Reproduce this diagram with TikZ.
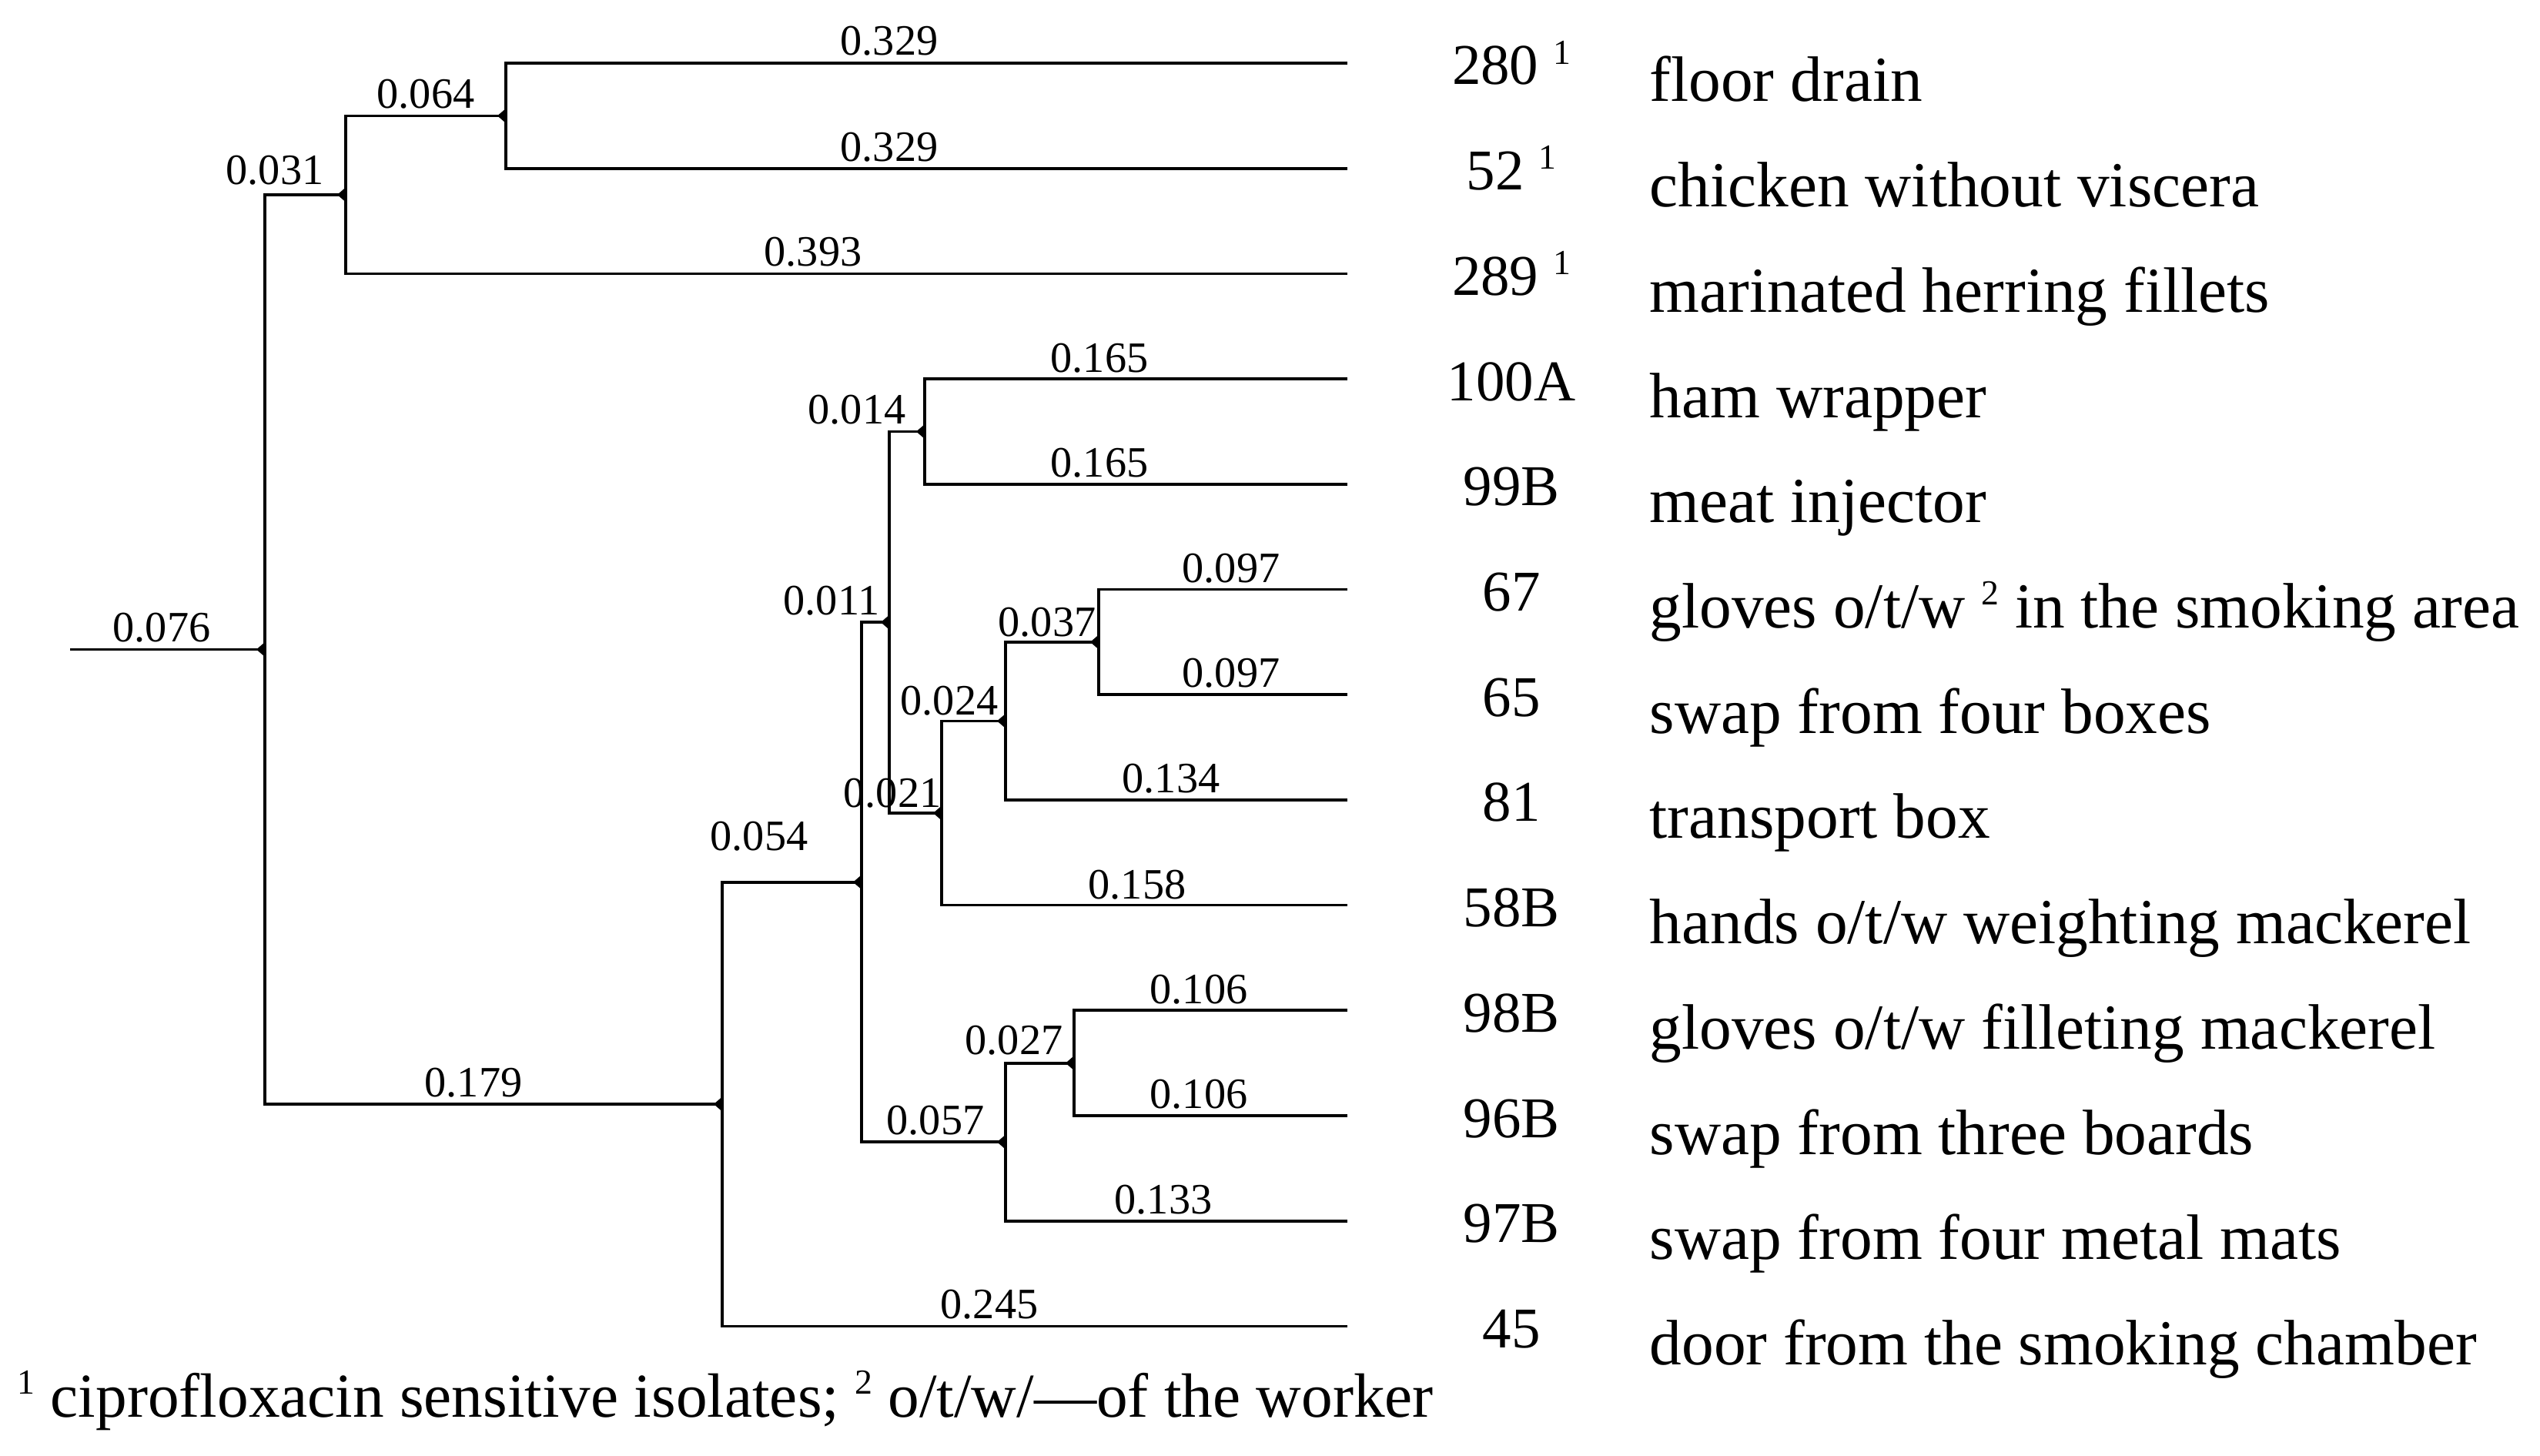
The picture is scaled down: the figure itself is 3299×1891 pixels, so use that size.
\documentclass[tikz,border=0pt]{standalone}
\usepackage{fontspec}
\setmainfont{Liberation Serif}
\newcommand\mysup[1]{\raisebox{0.36em}{\fontsize{13pt}{13pt}\selectfont #1}}
\begin{document}
\begin{tikzpicture}[x=0.01cm,y=-0.01cm,
  br/.style={line width=1.05pt},
  blab/.style={font=\fontsize{16pt}{18pt}\selectfont, anchor=base, inner sep=0pt},
  numlab/.style={font=\fontsize{21.3pt}{24pt}\selectfont, anchor=base, inner sep=0pt},
  namelab/.style={font=\fontsize{23.7pt}{26pt}\selectfont, anchor=base west, inner sep=0pt},
  footlab/.style={font=\fontsize{23.1pt}{26pt}\selectfont, anchor=base west, inner sep=0pt},
  mk/.style={fill=black}]
\useasboundingbox (0,0) rectangle (3299,1891);
% leaves
\foreach \i in {1,...,13} {
  \coordinate (L\i) at (1750,{82+136.7*(\i-1)});
}
% internal nodes
\coordinate (r0) at (91,843.5);
\coordinate (n1) at (344,843.5);
\coordinate (n2) at (449,252.9);
\coordinate (n3) at (657,150.4);
\coordinate (n5) at (938,1434);
\coordinate (n6) at (1119,1145.7);
\coordinate (n7) at (1155,808.2);
\coordinate (n8) at (1201,560.5);
\coordinate (n9) at (1223,1056);
\coordinate (n11) at (1306,936.4);
\coordinate (n12) at (1427,833.9);
\coordinate (n10) at (1306,1483.2);
\coordinate (n13) at (1395,1380.7);
% connectors
\draw[br] (r0) -- (n1);
\draw[br] (n1) |- (n2);
\draw[br] (n1) |- (n5);
\draw[br] (n2) |- (n3);
\draw[br] (n2) |- (L3);
\draw[br] (n3) |- (L1);
\draw[br] (n3) |- (L2);
\draw[br] (n5) |- (n6);
\draw[br] (n5) |- (L13);
\draw[br] (n6) |- (n7);
\draw[br] (n6) |- (n10);
\draw[br] (n7) |- (n8);
\draw[br] (n7) |- (n9);
\draw[br] (n8) |- (L4);
\draw[br] (n8) |- (L5);
\draw[br] (n9) |- (n11);
\draw[br] (n9) |- (L9);
\draw[br] (n11) |- (n12);
\draw[br] (n11) |- (L8);
\draw[br] (n12) |- (L6);
\draw[br] (n12) |- (L7);
\draw[br] (n10) |- (n13);
\draw[br] (n10) |- (L12);
\draw[br] (n13) |- (L10);
\draw[br] (n13) |- (L11);
% node markers
\foreach \n in {n1,n2,n3,n5,n6,n7,n8,n9,n10,n11,n12,n13} {
  \fill[mk] (\n) ++(0,-9.5) -- ++(-11,9.5) -- ++(11,9.5) -- cycle;
}
% branch lengths
\node[blab] (b076) at (210,833) {0.076};
\node[blab] (b031) at (357,240) {0.031};
\node[blab] (b064) at (553,141) {0.064};
\node[blab] (b329a) at (1155,72) {0.329};
\node[blab] (b329b) at (1155,209) {0.329};
\node[blab] (b393) at (1056,345) {0.393};
\node[blab] (b179) at (615,1424) {0.179};
\node[blab] (b054) at (986,1104) {0.054};
\node[blab] (b014) at (1113,550) {0.014};
\node[blab] (b011) at (1080,798) {0.011};
\node[blab] (b021) at (1159,1048) {0.021};
\node[blab] (b024) at (1233,928) {0.024};
\node[blab] (b037) at (1360,826) {0.037};
\node[blab] (b165a) at (1428,483) {0.165};
\node[blab] (b165b) at (1428,619) {0.165};
\node[blab] (b097a) at (1599,756) {0.097};
\node[blab] (b097b) at (1599,892) {0.097};
\node[blab] (b134) at (1521,1029) {0.134};
\node[blab] (b158) at (1477,1167) {0.158};
\node[blab] (b106a) at (1557,1303) {0.106};
\node[blab] (b027) at (1317,1369) {0.027};
\node[blab] (b106b) at (1557,1439) {0.106};
\node[blab] (b057) at (1215,1473) {0.057};
\node[blab] (b133) at (1511,1576) {0.133};
\node[blab] (b245) at (1285,1712) {0.245};
% isolate numbers and sources
\foreach \i/\num/\txt in {
  1/{280 \mysup{1}}/{floor drain},
  2/{52 \mysup{1}}/{chicken without viscera},
  3/{289 \mysup{1}}/{marinated herring fillets},
  4/{100A}/{ham wrapper},
  5/{99B}/{meat injector},
  6/{67}/{gloves o/t/w \mysup{2} in the smoking area},
  7/{65}/{swap from four boxes},
  8/{81}/{transport box},
  9/{58B}/{hands o/t/w weighting mackerel},
  10/{98B}/{gloves o/t/w filleting mackerel},
  11/{96B}/{swap from three boards},
  12/{97B}/{swap from four metal mats},
  13/{45}/{door from the smoking chamber}} {
  \node[numlab] (N\i) at (1963,{82+136.7*(\i-1)+28}) {\num};
  \node[namelab] (T\i) at (2142,{82+136.7*(\i-1)+50}) {\txt};
}
% footnote
\node[footlab] (foot) at (22,1840) {\mysup{1} ciprofloxacin sensitive isolates; \mysup{2} o/t/w/—of the worker};
\end{tikzpicture}
\end{document}
